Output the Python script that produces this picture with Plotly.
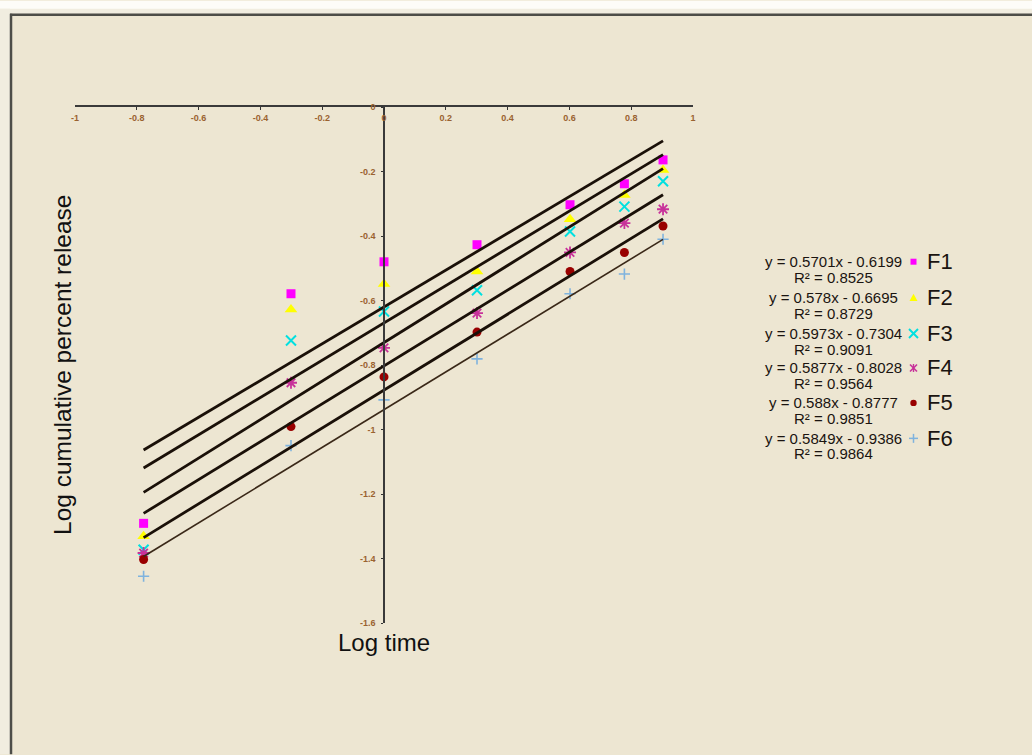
import plotly.graph_objects as go

# ---------------- data ----------------
log_time = [-0.778, -0.301, 0.0, 0.301, 0.602, 0.778, 0.903]
series_names = ["F1", "F2", "F3", "F4", "F5", "F6"]
F1 = [-1.291, -0.579, -0.480, -0.427, -0.303, -0.238, -0.164]
F2 = [-1.331, -0.628, -0.549, -0.510, -0.348, -0.273, -0.195]
F3 = [-1.373, -0.724, -0.634, -0.568, -0.386, -0.309, -0.230]
F4 = [-1.383, -0.855, -0.747, -0.639, -0.451, -0.360, -0.317]
F5 = [-1.403, -0.991, -0.837, -0.698, -0.510, -0.451, -0.369]
F6 = [-1.455, -1.050, -0.908, -0.781, -0.579, -0.518, -0.410]
slopes = [0.5701, 0.578, 0.5973, 0.5877, 0.588, 0.5849]
intercepts = [-0.6199, -0.6695, -0.7304, -0.8028, -0.8777, -0.9386]
r2 = [0.8525, 0.8729, 0.9091, 0.9564, 0.9851, 0.9864]
eq_labels = ["y = 0.5701x - 0.6199", "y = 0.578x - 0.6695", "y = 0.5973x - 0.7304",
             "y = 0.5877x - 0.8028", "y = 0.588x - 0.8777", "y = 0.5849x - 0.9386"]
x_ticks = [-1, -0.8, -0.6, -0.4, -0.2, 0, 0.2, 0.4, 0.6, 0.8, 1]
y_ticks = [0, -0.2, -0.4, -0.6, -0.8, -1, -1.2, -1.4, -1.6]
all_series = [F1, F2, F3, F4, F5, F6]

# ---------------- styles ----------------
W, H = 1032, 755
L, R, T, B = 75, 693, 106.5, 623.5      # plot-area pixel box
BG = "#EDE6D2"
TICK_COLOR = "#9A6230"
TXT = "#1A1410"
FONT = "Liberation Sans, Arial"
colors = ["#FF00FF", "#FFFF00", "#00E0E0", "#C8329A", "#990000", "#7FB3DE"]
styles = [
    dict(symbol="square", color=colors[0], size=9, line=dict(width=0)),
    dict(symbol="triangle-up", color=colors[1], size=11, line=dict(width=0)),
    dict(symbol="x-thin-open", color=colors[2], size=10, line=dict(width=2, color=colors[2])),
    dict(symbol="asterisk-open", color=colors[3], size=10, line=dict(width=1.8, color=colors[3])),
    dict(symbol="circle", color=colors[4], size=9, line=dict(width=0)),
    dict(symbol="cross-thin-open", color=colors[5], size=8, line=dict(width=1.6, color=colors[5])),
]
line_styles = [dict(color="#1A1008", width=2.8)] * 5 + [dict(color="#3A2818", width=1.6)]
legend_y = [261.5, 297.5, 333.5, 368, 403, 438.5]
LEG_MX = 913.5


def fx(px):
    return (px - L) / (R - L)


def fy(py):
    return (B - py) / (B - T)


fig = go.Figure()

# data points
for name, ys, st in zip(series_names, all_series, styles):
    fig.add_trace(go.Scatter(x=log_time, y=ys, mode="markers", name=name,
                             marker=st, showlegend=False, cliponaxis=False))

# trend lines from the regression equations
x0, x1 = min(log_time), max(log_time)
for m, c, ls in zip(slopes, intercepts, line_styles):
    fig.add_trace(go.Scatter(x=[x0, x1], y=[m * x0 + c, m * x1 + c], mode="lines",
                             line=ls, showlegend=False, hoverinfo="skip"))

annotations = []
for lab, rr, ly, nm in zip(eq_labels, r2, legend_y, series_names):
    annotations.append(dict(x=fx(834), y=fy(ly), xref="paper", yref="paper", text=lab,
                            showarrow=False, xanchor="center", yanchor="middle",
                            font=dict(family=FONT, size=15, color=TXT)))
    annotations.append(dict(x=fx(834), y=fy(ly + 15.5), xref="paper", yref="paper",
                            text=f"R² = {rr:.4f}", showarrow=False, xanchor="center",
                            yanchor="middle",
                            font=dict(family=FONT, size=15, color=TXT)))
    annotations.append(dict(x=fx(925), y=fy(ly), xref="paper", yref="paper", text=nm,
                            showarrow=False, xanchor="left", yanchor="middle",
                            font=dict(family=FONT, size=22, color=TXT)))

annotations.append(dict(x=fx(384), y=fy(643), xref="paper", yref="paper", text="Log time",
                        showarrow=False, xanchor="center", yanchor="middle", borderpad=0,
                        font=dict(family=FONT, size=24, color="#111111")))
annotations.append(dict(x=fx(62), y=fy(365), xref="paper", yref="paper",
                        text="Log cumulative percent release", textangle=-90,
                        showarrow=False, xanchor="center", yanchor="middle",
                        font=dict(family=FONT, size=24.5, color="#111111")))


def seg(xa, ya, xb, yb, color, width):
    return dict(type="line", xref="paper", yref="paper", x0=fx(xa), y0=fy(ya),
                x1=fx(xb), y1=fy(yb), line=dict(color=color, width=width))


shapes = [
    dict(type="rect", xref="paper", yref="paper", x0=fx(0), x1=fx(W), y0=fy(0), y1=fy(13),
         fillcolor="#F1EDE0", line=dict(width=0), layer="below"),
    dict(type="rect", xref="paper", yref="paper", x0=fx(0), x1=fx(W), y0=fy(0), y1=fy(8),
         fillcolor="#FDFCF8", line=dict(width=0), layer="below"),
    dict(type="rect", xref="paper", yref="paper", x0=fx(0), x1=fx(10), y0=fy(8), y1=fy(H),
         fillcolor="#F1EDE0", line=dict(width=0), layer="below"),
    seg(11, 13, 11, H, "#4D4D48", 2.5),
    seg(10, 14, W, 14, "#4D4D48", 2.5),
]

# legend symbols (drawn as small shapes next to the equations)
for i, ly in enumerate(legend_y):
    cx, cy, c = LEG_MX, ly, colors[i]
    if i == 0:
        shapes.append(dict(type="rect", xref="paper", yref="paper", x0=fx(cx - 3), x1=fx(cx + 3),
                           y0=fy(cy + 3), y1=fy(cy - 3), fillcolor=c, line=dict(width=0)))
    elif i == 1:
        path = (f"M {fx(cx - 4)} {fy(cy + 3.5)} L {fx(cx + 4)} {fy(cy + 3.5)} "
                f"L {fx(cx)} {fy(cy - 4)} Z")
        shapes.append(dict(type="path", xref="paper", yref="paper", path=path,
                           fillcolor=c, line=dict(width=0)))
    elif i == 2:
        shapes.append(seg(cx - 4.5, cy - 4.5, cx + 4.5, cy + 4.5, c, 2))
        shapes.append(seg(cx - 4.5, cy + 4.5, cx + 4.5, cy - 4.5, c, 2))
    elif i == 3:
        shapes.append(seg(cx - 3.5, cy - 3.5, cx + 3.5, cy + 3.5, c, 1.6))
        shapes.append(seg(cx - 3.5, cy + 3.5, cx + 3.5, cy - 3.5, c, 1.6))
        shapes.append(seg(cx, cy - 4, cx, cy + 4, c, 1.4))
    elif i == 4:
        shapes.append(dict(type="circle", xref="paper", yref="paper", x0=fx(cx - 3.2),
                           x1=fx(cx + 3.2), y0=fy(cy + 3.2), y1=fy(cy - 3.2),
                           fillcolor=c, line=dict(width=0)))
    else:
        shapes.append(seg(cx - 4.5, cy, cx + 4.5, cy, c, 1.5))
        shapes.append(seg(cx, cy - 4.5, cx, cy + 4.5, c, 1.5))

fig.update_layout(
    width=W, height=H, autosize=False,
    margin=dict(l=L, r=W - R, t=T, b=H - B, pad=0),
    paper_bgcolor=BG, plot_bgcolor=BG,
    showlegend=False,
    font=dict(family=FONT),
    xaxis=dict(range=[-1, 1], domain=[0, 1], side="top", anchor="y",
               tickvals=x_ticks, ticktext=[f"{v:g}" for v in x_ticks],
               ticks="inside", ticklen=3, tickcolor="#333333",
               ticklabelposition="inside", ticklabelstandoff=4, ticklabeloverflow="allow",
               tickfont=dict(size=9, color=TICK_COLOR, weight="bold"),
               showline=True, linecolor="#3a3a3a", linewidth=1.5,
               showgrid=False, zeroline=False),
    yaxis=dict(range=[-1.6, 0], domain=[0, 1], anchor="free", position=0.5, side="left",
               tickvals=y_ticks, ticktext=[f"{v:g}" for v in y_ticks],
               ticks="outside", ticklen=2, tickcolor="#333333", ticklabelstandoff=4,
               ticklabeloverflow="allow",
               tickfont=dict(size=9, color=TICK_COLOR, weight="bold"),
               showline=True, linecolor="#3a3a3a", linewidth=1.5,
               showgrid=False, zeroline=False),
    annotations=annotations,
    shapes=shapes,
)

fig.write_html("out.html")
